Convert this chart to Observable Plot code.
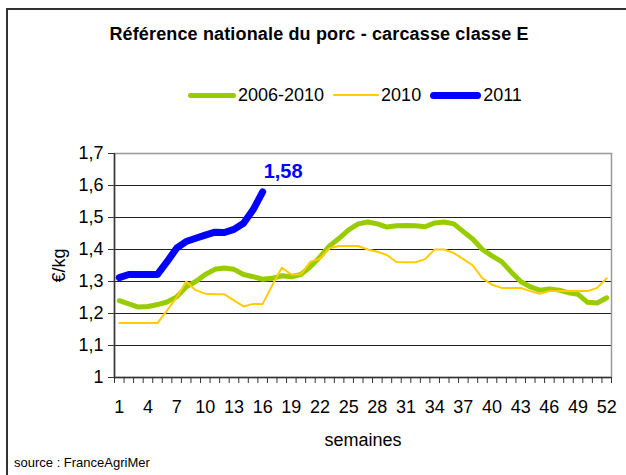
<!DOCTYPE html>
<html><head><meta charset="utf-8">
<script src="https://cdn.jsdelivr.net/npm/d3@7"></script>
<script src="https://cdn.jsdelivr.net/npm/@observablehq/plot@0.6"></script>
<style>
body{margin:0;background:#fff;font-family:"Liberation Sans",Arial,sans-serif;overflow:hidden}
#wrap{position:relative;width:626px;height:475px;overflow:hidden;background:#fff}
#border{position:absolute;left:6px;top:8px;width:700px;height:600px;border-left:2px solid #333;border-top:2px solid #333}
#title{position:absolute;left:6px;width:626px;top:24px;text-align:center;font-weight:bold;font-size:18px;line-height:21px;color:#000;letter-spacing:0.15px}
#legend{position:absolute;left:188px;top:84px;height:22px;display:flex;align-items:center;font-size:18px;color:#000}
.sw{display:inline-block;border-radius:4px}
.lab{margin-left:2px;margin-right:9px}
#source{position:absolute;left:14px;top:455px;font-size:13px;color:#000}
#chart{position:absolute;left:0;top:120px}
</style>
</head><body>
<div id="wrap">
<div id="border"></div>
<div id="title">Référence nationale du porc - carcasse classe E</div>
<div id="legend"></div>
<div id="chart"></div>
<div id="source">source : FranceAgriMer</div>
</div>
<script>
const weeks = [1,2,3,4,5,6,7,8,9,10,11,12,13,14,15,16,17,18,19,20,21,22,23,24,25,26,
  27,28,29,30,31,32,33,34,35,36,37,38,39,40,41,42,43,44,45,46,47,48,49,50,51,52];
const avg2006_2010 = [1.24,1.23,1.22,1.222,1.228,1.236,1.252,1.283,1.30,1.322,1.338,1.342,1.338,1.322,1.315,1.307,
  1.31,1.318,1.315,1.322,1.346,1.377,1.411,1.435,1.461,1.48,1.486,1.48,1.47,1.474,1.475,1.474,1.471,1.483,1.486,1.48,
  1.456,1.432,1.40,1.38,1.362,1.33,1.30,1.283,1.273,1.277,1.273,1.265,1.26,1.235,1.233,1.249];
const y2010 = [1.17,1.17,1.17,1.17,1.17,1.21,1.25,1.30,1.273,1.262,1.26,1.26,1.241,1.222,1.23,1.23,
  1.288,1.343,1.322,1.322,1.362,1.372,1.404,1.411,1.411,1.411,1.40,1.393,1.383,1.361,1.36,1.36,1.37,1.40,1.40,1.389,
  1.37,1.35,1.31,1.29,1.28,1.28,1.28,1.27,1.262,1.27,1.27,1.27,1.27,1.27,1.28,1.31];
const y2011 = [1.312,1.322,1.322,1.322,1.322,1.362,1.404,1.425,1.435,1.445,1.454,1.453,1.463,1.482,1.524,1.58];
const seriesNames = ["2006-2010","2010","2011"];
const seriesColors = ["#99CC00","#FFCC00","#0000FF"];
const yTicks = [1,1.1,1.2,1.3,1.4,1.5,1.6,1.7];
const xTickLabels = [1,4,7,10,13,16,19,22,25,28,31,34,37,40,43,46,49,52];
const lastLabel = "1,58";

const widths = [5,2,7];
const legend = document.getElementById("legend");
const swW = [48,46,51];
seriesNames.forEach((n,i)=>{
  const s = document.createElement("span");
  s.className="sw"; s.style.width=swW[i]+"px"; s.style.height=widths[i]+"px"; s.style.background=seriesColors[i];
  const t = document.createElement("span"); t.className="lab"; t.textContent=n;
  legend.appendChild(s); legend.appendChild(t);
});

const rows = [];
weeks.forEach((w,i)=>{ rows.push({week:w, value:avg2006_2010[i], s:seriesNames[0]}); });
weeks.forEach((w,i)=>{ rows.push({week:w, value:y2010[i], s:seriesNames[1]}); });
y2011.forEach((v,i)=>{ rows.push({week:weeks[i], value:v, s:seriesNames[2]}); });
const boundaries = weeks.map(w=>w-0.5).concat([weeks[weeks.length-1]+0.5]);
const fmt = d => String(d).replace(".", ",");
const last = rows.filter(r=>r.s==="2011").slice(-1);

const chart = Plot.plot({
  width: 626, height: 355,
  marginLeft: 114, marginRight: 15, marginTop: 33, marginBottom: 98,
  style: {fontFamily: '"Liberation Sans", Arial, sans-serif', fontSize: "18px", background: "transparent", color: "#000"},
  x: {domain: [0.5, 52.5]},
  y: {domain: [1, 1.7]},
  marks: [
    Plot.ruleY(yTicks.slice(1, -1), {stroke: "#222", strokeWidth: 1}),
    Plot.frame({stroke: "#999", strokeWidth: 1.5}),
    Plot.axisY({ticks: yTicks, tickSize: 6, tickPadding: 5, tickFormat: fmt, label: "€/kg", labelAnchor: "center", labelArrow: "none", labelOffset: 62, fontSize: 18, stroke: "#333"}),
    Plot.axisX({ticks: boundaries, tickSize: 6, tickFormat: () => "", label: null, stroke: "#333"}),
    Plot.axisX({ticks: xTickLabels, tickSize: 0, tickPadding: 23, label: "semaines", labelAnchor: "center", labelArrow: "none", labelOffset: 68, fontSize: 18}),
    Plot.ruleX([0.5], {stroke: "#333", strokeWidth: 1.5}),
    Plot.ruleY([1], {stroke: "#333", strokeWidth: 1.5}),
    Plot.line(rows.filter(r=>r.s==="2006-2010"), {x: "week", y: "value", stroke: seriesColors[0], strokeWidth: widths[0], strokeLinejoin: "round", strokeLinecap: "round"}),
    Plot.line(rows.filter(r=>r.s==="2010"), {x: "week", y: "value", stroke: seriesColors[1], strokeWidth: widths[1], strokeLinejoin: "round"}),
    Plot.line(rows.filter(r=>r.s==="2011"), {x: "week", y: "value", stroke: seriesColors[2], strokeWidth: widths[2], strokeLinejoin: "round", strokeLinecap: "round"}),
    Plot.text(last, {x: "week", y: "value", text: () => lastLabel, fill: seriesColors[2], fontWeight: "bold", fontSize: 20, textAnchor: "start", dx: 1, dy: -20})
  ]
});
document.getElementById("chart").appendChild(chart);
</script>
</body></html>
